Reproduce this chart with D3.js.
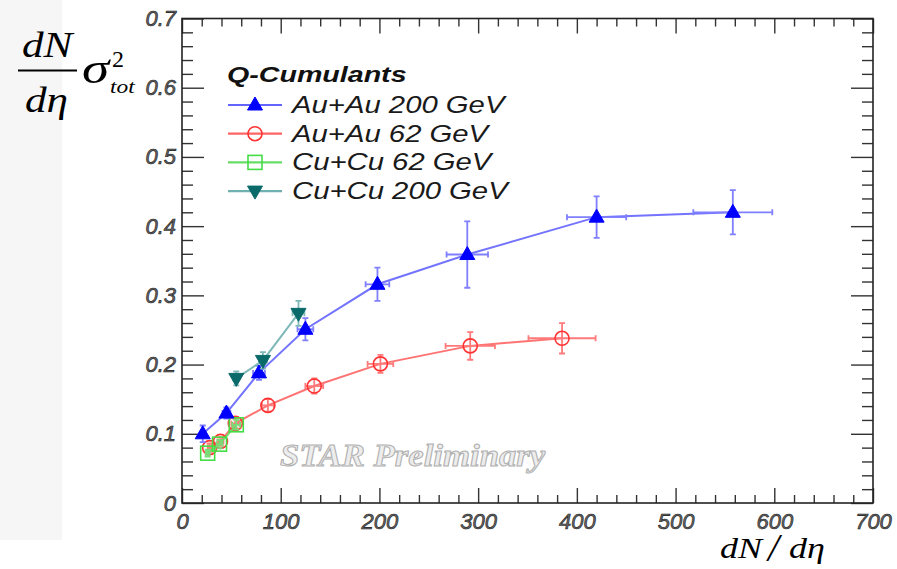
<!DOCTYPE html>
<html>
<head>
<meta charset="utf-8">
<script src="https://cdn.jsdelivr.net/npm/d3@7/dist/d3.min.js"></script>
<style>
  html, body { margin: 0; padding: 0; background: #fff; }
  svg { display: block; }
</style>
</head>
<body>
<svg id="chart" width="897" height="569"></svg>
<script>
// Q-cumulant v2 fluctuations: (dN/dη)·σ²_tot versus dN/dη
const seriesNames = ["Au+Au 200 GeV", "Au+Au 62 GeV", "Cu+Cu 62 GeV", "Cu+Cu 200 GeV"];

const auau200X    = [21, 45, 78, 125, 198, 289, 420, 558];
const auau200Y    = [0.100, 0.130, 0.188, 0.251, 0.316, 0.359, 0.413, 0.420];
const auau200XErr = [3, 4, 6, 8, 12, 21, 30, 40];
const auau200YErr = [0.012, 0.008, 0.010, 0.016, 0.024, 0.048, 0.030, 0.032];

const auau62X    = [28, 39, 54, 87, 134, 201, 292, 385];
const auau62Y    = [0.080, 0.089, 0.115, 0.141, 0.169, 0.201, 0.227, 0.238];
const auau62XErr = [2, 3, 4, 6, 9, 13, 25, 34];
const auau62YErr = [0.006, 0.006, 0.007, 0.009, 0.011, 0.013, 0.020, 0.022];

const cucu62X    = [26, 38, 55];
const cucu62Y    = [0.072, 0.085, 0.113];
const cucu62XErr = [2, 3, 4];
const cucu62YErr = [0.005, 0.006, 0.007];

const cucu200X    = [55, 82, 118];
const cucu200Y    = [0.180, 0.206, 0.274];
const cucu200XErr = [3, 4, 6];
const cucu200YErr = [0.010, 0.012, 0.018];

const xTicks = [0, 100, 200, 300, 400, 500, 600, 700];
const yTicks = [0, 0.1, 0.2, 0.3, 0.4, 0.5, 0.6, 0.7];

const svg = d3.select("#chart");
const x = d3.scaleLinear().domain([0, 700]).range([182, 873]);
const y = d3.scaleLinear().domain([0, 0.7]).range([503, 18.5]);

// light band behind the y title
svg.append("rect").attr("x", 0).attr("y", 0).attr("width", 62).attr("height", 540).attr("fill", "#f6f6f6");

// stretch a text element horizontally by a factor
function stretch(sel, f) {
  sel.each(function () {
    const w = this.getComputedTextLength();
    d3.select(this).attr("textLength", w * f).attr("lengthAdjust", "spacingAndGlyphs");
  });
  return sel;
}

// ---- axes (ROOT style: ticks pointing inward on all four sides) ----
const xMinor = d3.range(0, 701, 20).filter(v => v % 100 !== 0);
const yMinor = d3.range(0, 71, 2).map(v => v / 100).filter(v => Math.round(v * 100) % 10 !== 0);

function styleAxis(g) {
  g.select(".domain").remove();
  g.selectAll(".tick line").attr("stroke", "#333").attr("stroke-width", 1.4);
}

const labelStyle = sel => sel
  .attr("font-family", "'Liberation Sans', Arial, sans-serif")
  .attr("font-style", "italic")
  .attr("font-size", 22)
  .attr("fill", "#666")
  .attr("stroke", "#1a1a1a")
  .attr("stroke-width", 0.6);

// bottom
svg.append("g").attr("transform", "translate(0,503)")
  .call(d3.axisBottom(x).tickValues(xTicks).tickSize(-15).tickPadding(10).tickFormat(d3.format("d")))
  .call(styleAxis)
  .call(g => labelStyle(g.selectAll("text")));
svg.append("g").attr("transform", "translate(0,503)")
  .call(d3.axisBottom(x).tickValues(xMinor).tickSize(-8).tickFormat(""))
  .call(styleAxis);
// top
svg.append("g").attr("transform", "translate(0,18.5)")
  .call(d3.axisTop(x).tickValues(xTicks).tickSize(-15).tickFormat(""))
  .call(styleAxis);
svg.append("g").attr("transform", "translate(0,18.5)")
  .call(d3.axisTop(x).tickValues(xMinor).tickSize(-8).tickFormat(""))
  .call(styleAxis);
// left
svg.append("g").attr("transform", "translate(182,0)")
  .call(d3.axisLeft(y).tickValues(yTicks).tickSize(-22).tickPadding(6)
    .tickFormat(d => d === 0 ? "0" : d3.format(".1f")(d)))
  .call(styleAxis)
  .call(g => labelStyle(g.selectAll("text")));
svg.append("g").attr("transform", "translate(182,0)")
  .call(d3.axisLeft(y).tickValues(yMinor).tickSize(-11).tickFormat(""))
  .call(styleAxis);
// right
svg.append("g").attr("transform", "translate(873,0)")
  .call(d3.axisRight(y).tickValues(yTicks).tickSize(-22).tickFormat(""))
  .call(styleAxis);
svg.append("g").attr("transform", "translate(873,0)")
  .call(d3.axisRight(y).tickValues(yMinor).tickSize(-11).tickFormat(""))
  .call(styleAxis);

// frame
svg.append("rect")
  .attr("x", x(0)).attr("y", y(0.7))
  .attr("width", x(700) - x(0)).attr("height", y(0) - y(0.7))
  .attr("fill", "none").attr("stroke", "#222").attr("stroke-width", 1.6);

// ---- watermark ----
stretch(svg.append("text")
  .attr("x", 280).attr("y", 466)
  .attr("font-family", "'Liberation Serif', 'Times New Roman', serif")
  .attr("font-style", "italic").attr("font-weight", "bold")
  .attr("font-size", 31)
  .attr("fill", "#ededed").attr("stroke", "#b0b0b0").attr("stroke-width", 1)
  .text("STAR Preliminary"), 1.12);

// ---- series ----
const series = [
  { name: seriesNames[1], xs: auau62X, ys: auau62Y, xe: auau62XErr, ye: auau62YErr,
    marker: "circle", fill: "none", mstroke: "#ff3333", line: "#ff6464", err: "#ff7a7a" },
  { name: seriesNames[2], xs: cucu62X, ys: cucu62Y, xe: cucu62XErr, ye: cucu62YErr,
    marker: "square", fill: "none", mstroke: "#44dd44", line: "#66dd66", err: "#77dd77" },
  { name: seriesNames[0], xs: auau200X, ys: auau200Y, xe: auau200XErr, ye: auau200YErr,
    marker: "triUp", fill: "#0000ff", mstroke: "#0000ff", line: "#6464ff", err: "#7f7fff" },
  { name: seriesNames[3], xs: cucu200X, ys: cucu200Y, xe: cucu200XErr, ye: cucu200YErr,
    marker: "triDown", fill: "#0a6a6a", mstroke: "#0a6a6a", line: "#70b0b0", err: "#80b8b8" }
];

function drawMarker(g, type, cx, cy, s) {
  if (type === "circle") {
    g.append("circle").attr("cx", cx).attr("cy", cy).attr("r", 7)
      .attr("fill", "none").attr("stroke", s.mstroke).attr("stroke-width", 1.6);
  } else if (type === "square") {
    g.append("rect").attr("x", cx - 7).attr("y", cy - 7).attr("width", 14).attr("height", 14)
      .attr("fill", "none").attr("stroke", s.mstroke).attr("stroke-width", 1.6);
  } else if (type === "triUp") {
    g.append("path").attr("d", `M${cx},${cy - 8}L${cx + 7.5},${cy + 5}L${cx - 7.5},${cy + 5}Z`)
      .attr("fill", s.fill).attr("stroke", s.mstroke).attr("stroke-width", 1);
  } else {
    g.append("path").attr("d", `M${cx},${cy + 8}L${cx + 7.5},${cy - 5}L${cx - 7.5},${cy - 5}Z`)
      .attr("fill", s.fill).attr("stroke", s.mstroke).attr("stroke-width", 1);
  }
}

const lineGen = d3.line().x(d => x(d[0])).y(d => y(d[1]));
const plot = svg.append("g");

series.forEach(s => {
  const pts = s.xs.map((v, i) => [v, s.ys[i], s.xe[i], s.ye[i]]);
  const g = plot.append("g");
  // connecting line
  g.append("path").attr("d", lineGen(pts))
    .attr("fill", "none").attr("stroke", s.line).attr("stroke-width", 2).attr("opacity", 0.9);
  // error bars with end caps
  pts.forEach(p => {
    const cx = x(p[0]), cy = y(p[1]);
    const x0 = x(p[0] - p[2]), x1 = x(p[0] + p[2]);
    const y0 = y(p[1] - p[3]), y1 = y(p[1] + p[3]);
    const cap = 3;
    const path = `M${x0},${cy}H${x1}M${cx},${y0}V${y1}` +
      `M${x0},${cy - cap}V${cy + cap}M${x1},${cy - cap}V${cy + cap}` +
      `M${cx - cap},${y0}H${cx + cap}M${cx - cap},${y1}H${cx + cap}`;
    g.append("path").attr("d", path).attr("fill", "none")
      .attr("stroke", s.err).attr("stroke-width", 1.8);
  });
  pts.forEach(p => drawMarker(g, s.marker, x(p[0]), y(p[1]), s));
});

// ---- legend ----
stretch(svg.append("text")
  .attr("x", 227).attr("y", 82)
  .attr("font-family", "'Liberation Sans', Arial, sans-serif")
  .attr("font-style", "italic").attr("font-weight", "bold")
  .attr("font-size", 22).attr("fill", "#111")
  .text("Q-Cumulants"), 1.3);

const legendOrder = [series[2], series[0], series[1], series[3]];
legendOrder.forEach((s, i) => {
  const cy = 105 + i * 28.7;
  const g = svg.append("g");
  g.append("line").attr("x1", 228).attr("x2", 282).attr("y1", cy).attr("y2", cy)
    .attr("stroke", s.line).attr("stroke-width", 2.2);
  drawMarker(g, s.marker, 255, cy, s);
  stretch(g.append("text")
    .attr("x", 292).attr("y", cy + 8)
    .attr("font-family", "'Liberation Sans', Arial, sans-serif")
    .attr("font-style", "italic")
    .attr("font-size", 24).attr("fill", "#1a1a1a")
    .text(s.name), 1.22);
});

// ---- axis titles ----
const serif = "'Liberation Serif', 'Times New Roman', serif";
const ytitle = svg.append("g").attr("font-family", serif).attr("fill", "#000");
stretch(ytitle.append("text").attr("x", 22).attr("y", 57).attr("font-size", 36)
  .attr("font-style", "italic").text("dN"), 1.2);
ytitle.append("line").attr("x1", 18).attr("x2", 77).attr("y1", 70.5).attr("y2", 70.5)
  .attr("stroke", "#000").attr("stroke-width", 2);
stretch(ytitle.append("text").attr("x", 25).attr("y", 112).attr("font-size", 36)
  .attr("font-style", "italic").text("dη"), 1.2);
stretch(ytitle.append("text").attr("x", 82).attr("y", 83).attr("font-size", 44)
  .attr("font-style", "italic").text("σ"), 1.25);
ytitle.append("text").attr("x", 112).attr("y", 67).attr("font-size", 24).text("2");
stretch(ytitle.append("text").attr("x", 110).attr("y", 93).attr("font-size", 18)
  .attr("font-style", "italic").text("tot"), 1.3);

const xtitle = svg.append("g").attr("font-family", serif).attr("fill", "#000").attr("font-style", "italic");
stretch(xtitle.append("text").attr("x", 720).attr("y", 558).attr("font-size", 30).text("dN"), 1.2);
xtitle.append("text").attr("x", 768).attr("y", 561).attr("font-size", 40).text("/");
stretch(xtitle.append("text").attr("x", 789).attr("y", 558).attr("font-size", 30).text("dη"), 1.2);
</script>
</body>
</html>
